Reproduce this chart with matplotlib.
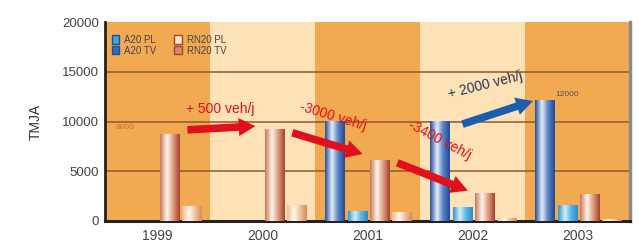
import numpy as np
import matplotlib
matplotlib.use("Agg")
import matplotlib.pyplot as plt
from matplotlib.colors import LinearSegmentedColormap
from matplotlib.patches import Patch

# data
years = ['1999', '2000', '2001', '2002', '2003']
a20_tv = [0, 0, 10000, 10000, 12100]
a20_pl = [0, 0, 1000, 1400, 1600]
rn20_tv = [8700, 9200, 6100, 2800, 2700]
rn20_pl = [1500, 1600, 900, 300, 200]

plt.rcParams['font.family'] = ['Liberation Sans Narrow', 'Liberation Sans', 'DejaVu Sans']

fig = plt.figure(figsize=(6.39, 2.48), dpi=100)
ax = fig.add_axes([0.164, 0.109, 0.822, 0.802])

dark_band = '#f1aa52'
light_band = '#fde2b8'
for i in range(len(years)):
    ax.axvspan(i - 0.5, i + 0.5, color=dark_band if i % 2 == 0 else light_band, zorder=0, lw=0)

for yv in [5000, 10000, 15000]:
    ax.axhline(yv, color='#8b5a2b', lw=1.1, zorder=1)

x = np.arange(len(years))
w = 0.19
series = [
    (a20_tv, -0.31, ['#1f4f9c', '#e9eef8', '#5d86c6', '#1d4a93']),
    (a20_pl, -0.09, ['#2f97d2', '#d4f0fb', '#5cb6e2', '#2a8cc8']),
    (rn20_tv, 0.12, ['#c8785a', '#fff6ee', '#e0a084', '#a8402a']),
    (rn20_pl, 0.33, ['#f0b890', '#fff8f0', '#f2c3a0', '#d88a60']),
]

grad = np.linspace(0, 1, 64).reshape(1, -1)
for vals, off, cols in series:
    cmap = LinearSegmentedColormap.from_list('c', list(zip([0, 0.35, 0.65, 1], cols)))
    bars = ax.bar(x + off, vals, w, color=cols[0], zorder=2, lw=0)
    for b in bars:
        h = b.get_height()
        if h <= 0:
            continue
        x0 = b.get_x()
        ax.imshow(grad, extent=[x0, x0 + b.get_width(), 0, h], aspect='auto',
                  cmap=cmap, zorder=3, interpolation='bicubic')

ax.set_xlim(-0.5, 4.5)
ax.set_ylim(0, 20000)

# trend arrows
red = '#e2101c'
def arrow(x0, y0, x1, y1, c):
    ax.annotate('', xy=(x1, y1), xytext=(x0, y0),
                arrowprops=dict(arrowstyle='simple,head_width=1.3,head_length=1.2,tail_width=0.55',
                                color=c, mutation_scale=10, lw=0), zorder=5)

arrow(0.26, 9150, 0.96, 9550, red)
arrow(1.26, 8950, 1.98, 6650, red)
arrow(2.26, 5950, 2.98, 2950, red)
arrow(2.88, 9650, 3.6, 12150, '#1a5fae')

ax.text(0.6, 11300, '+ 500 veh/j', color=red, fontsize=10, ha='center', va='center', zorder=6)
ax.text(1.67, 10500, '-3000 veh/j', color=red, fontsize=10, ha='center', va='center',
        rotation=-17, zorder=6)
ax.text(2.69, 8150, '-3400 veh/j', color=red, fontsize=10, ha='center', va='center',
        rotation=-28, zorder=6)
ax.text(3.12, 13700, '+ 2000 veh/j', color='#2e3550', fontsize=10, ha='center', va='center',
        rotation=14, zorder=6)
ax.text(-0.31, 9400, '8800', color='#d46a30', fontsize=6, ha='center', va='center', zorder=6)
ax.text(3.9, 12700, '12000', color='#555555', fontsize=6, ha='center', va='center', zorder=6)

ax.set_xticks(x)
ax.set_xticklabels(years, fontsize=10, color='#444444')
ax.set_yticks([0, 5000, 10000, 15000, 20000])
ax.set_yticklabels(['0', '5000', '10000', '15000', '20000'], fontsize=9.5, color='#444444')
ax.tick_params(axis='y', length=0, pad=4)
ax.tick_params(axis='x', length=0, pad=6)
ax.set_ylabel('TMJA', fontsize=10, color='#333333', labelpad=14)

ax.spines['top'].set_visible(False)
ax.spines['left'].set_linewidth(2)
ax.spines['left'].set_color('#222222')
ax.spines['bottom'].set_linewidth(2.2)
ax.spines['bottom'].set_color('#222222')
ax.spines['right'].set_linewidth(2.5)
ax.spines['right'].set_color('#8a8a8a')

handles = [Patch(facecolor='#3aa6dc', edgecolor='#1f4f9c', label='A20 PL'),
           Patch(facecolor='#3b6bb5', edgecolor='#1f4f9c', label='A20 TV'),
           Patch(facecolor='#fbe4d2', edgecolor='#a8402a', label='RN20 PL'),
           Patch(facecolor='#d88a6a', edgecolor='#a8402a', label='RN20 TV')]
ax.legend(handles=handles, ncol=2, loc='upper left', bbox_to_anchor=(0.0, 0.97),
          frameon=False, fontsize=7, handlelength=0.8, handleheight=0.9,
          labelspacing=0.1, columnspacing=1.8, handletextpad=0.5, borderaxespad=0.3,
          labelcolor='#444444')

fig.savefig('out.png', dpi=100)
